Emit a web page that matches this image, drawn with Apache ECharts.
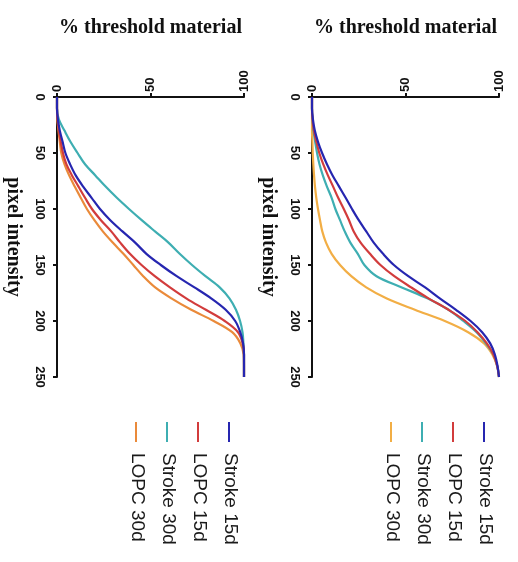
<!DOCTYPE html>
<html>
<head>
<meta charset="utf-8">
<script src="https://cdn.jsdelivr.net/npm/echarts@6/dist/echarts.min.js"></script>
<style>
html,body{margin:0;padding:0;background:#fff;}
#chart{width:518px;height:562px;}
</style>
</head>
<body>
<div id="chart"></div>
<script>
// ---- data ----
const intensity = [0,10,20,30,40,50,60,70,80,90,100,110,120,130,140,150,160,170,180,190,200,210,220,230,240,250];
const seriesNames = ['Stroke 15d','LOPC 15d','Stroke 30d','LOPC 30d'];
const xTicks = [0,50,100];
const yTicks = [0,50,100,150,200,250];

// left panel (% threshold material)
const leftStroke15 = [0,0,0.5,1.5,3,4.5,7,10,14,18.5,23,28.5,35,41.8,47.8,55.5,64,73.5,82.6,90.2,95.3,98,99.5,100,100,100];
const leftLopc15   = [0,0,0.3,1,2,3.2,5,8,11.5,15,18.7,23.5,29,33.8,39,45.2,52.3,60.4,69.3,79.6,89.7,96.8,99.3,100,100,100];
const leftStroke30 = [0,0,1,4,7.2,11,15,20.5,26,32,38.5,45.3,52.4,59.6,65.6,72.2,79.4,87,92.3,95.7,97.9,99.2,99.7,100,100,100];
const leftLopc30   = [0,0,0.2,0.8,1.5,2.3,4,6.5,9.5,12.7,16,20,24.5,29.8,35.5,40.8,46.1,52.5,61.4,71.8,83.8,93.7,98.1,99.8,100,100];

// right panel
const rightStroke15 = [0,0,0.5,1.5,3.2,5.4,8,11,14.5,18,21.4,25,29,33,38,43.8,51.5,60.5,68.5,77,84.8,91,95.3,97.8,99.2,100];
const rightLopc15   = [0,0,0.3,1,2.3,3.9,6,8.5,11.3,14,17,19.8,22.3,26,31,36.6,44,53,62.5,73,82,88.5,93.5,97,99,100];
const rightStroke30 = [0,0,0.3,0.8,1.7,2.7,4,5.8,8,10.5,12.5,15,17.5,20.5,24.5,28,34.5,48,62,73,81,88,93,97,99,100];
const rightLopc30   = [0,0,0,0,0.2,0.4,0.7,1.1,1.6,2.3,3.2,4.3,5.5,7.5,10.5,15,21,29,40,55,71,83.5,92,96.5,99,100];

const leftColors  = ['#2626b0','#d23c3c','#3eaeb2','#ea8a3a'];
const rightColors = ['#2626b0','#d23c3c','#3eaeb2','#f2ae45'];

const panels = [
  {values:[leftStroke15,leftLopc15,leftStroke30,leftLopc30], colors:leftColors},
  {values:[rightStroke15,rightLopc15,rightStroke30,rightLopc30], colors:rightColors}
];

// ---- layout ----
const gridLefts = [57, 312];
const gridTop = 97, gridW = 187, gridH = 280;
const serif = 'Liberation Serif';
const sans = 'Liberation Sans';

const grids = [], xAxes = [], yAxes = [], series = [], graphics = [];

panels.forEach((p, gi) => {
  grids.push({left: gridLefts[gi], top: gridTop, width: gridW, height: gridH,
    containLabel: false, outerBoundsMode: 'none'});
  xAxes.push({
    gridIndex: gi, type: 'value', position: 'top', min: xTicks[0], max: xTicks[xTicks.length-1], interval: 50,
    name: '% threshold material', nameLocation: 'middle', nameGap: 59, nameMoveOverlap: false,
    nameTextStyle: {fontFamily: serif, fontWeight: 'bold', fontSize: 20, color: '#111'},
    axisLine: {show: true, onZero: false, lineStyle: {color: '#111', width: 2}},
    axisTick: {show: true, length: 4, lineStyle: {color: '#111', width: 2}},
    axisLabel: {rotate: -90, margin: 5, fontFamily: sans, fontWeight: 'bold', fontSize: 13, color: '#111'},
    splitLine: {show: false}
  });
  yAxes.push({
    gridIndex: gi, type: 'value', inverse: true, min: yTicks[0], max: yTicks[yTicks.length-1], interval: 50,
    name: 'pixel intensity', nameLocation: 'middle', nameGap: 34, nameRotate: -90, nameMoveOverlap: false,
    nameTextStyle: {fontFamily: serif, fontWeight: 'bold', fontSize: 20, color: '#111'},
    axisLine: {show: true, onZero: false, lineStyle: {color: '#111', width: 2}},
    axisTick: {show: true, length: 4, lineStyle: {color: '#111', width: 2}},
    axisLabel: {rotate: -90, margin: 11, fontFamily: sans, fontWeight: 'bold', fontSize: 13, color: '#111'},
    splitLine: {show: false}
  });
  p.values.forEach((arr, si) => {
    series.push({
      type: 'line', name: seriesNames[si], xAxisIndex: gi, yAxisIndex: gi,
      data: intensity.map((v, i) => [arr[i], v]),
      showSymbol: false, symbol: 'none', smooth: 0.35,
      lineStyle: {color: p.colors[si], width: 2.2}, itemStyle: {color: p.colors[si]},
      z: 10 - si
    });
  });
  // rotated legend
  const legendRight = gridLefts[gi] + 173;
  seriesNames.forEach((nm, si) => {
    const cx = legendRight - si * 31;
    graphics.push({type: 'line', shape: {x1: cx - 1, y1: 422, x2: cx - 1, y2: 442},
      style: {stroke: p.colors[si], lineWidth: 2}});
    graphics.push({type: 'text', x: cx, y: 453, rotation: -Math.PI / 2,
      style: {text: nm, fontFamily: sans, fontSize: 19, fill: '#1a1a1a', align: 'left', verticalAlign: 'middle'}});
  });
});

const chart = echarts.init(document.getElementById('chart'), null, {renderer: 'canvas'});
chart.setOption({
  animation: false,
  backgroundColor: '#fff',
  grid: grids, xAxis: xAxes, yAxis: yAxes, series: series,
  graphic: graphics
});
</script>
</body>
</html>
